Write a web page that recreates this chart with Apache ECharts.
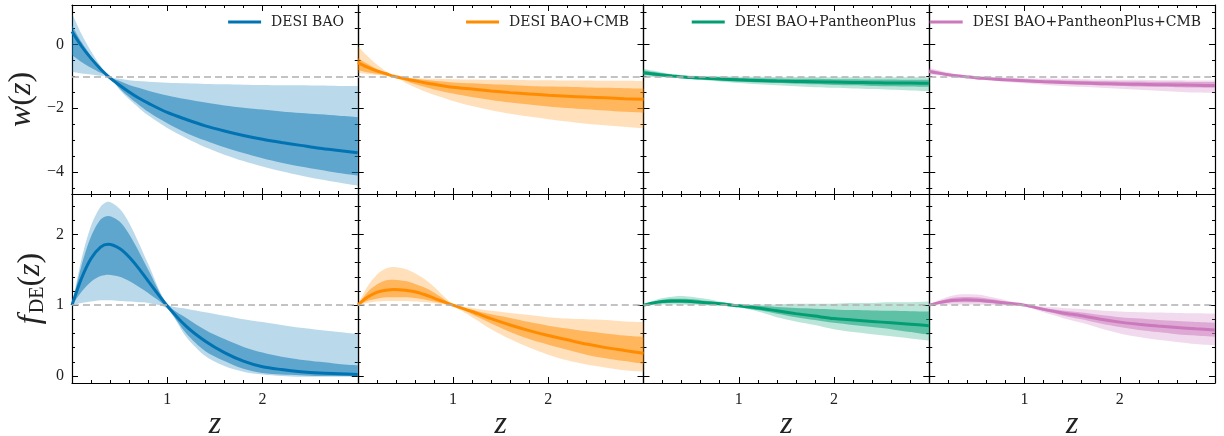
<!DOCTYPE html>
<html><head><meta charset="utf-8">
<script src="https://cdn.jsdelivr.net/npm/echarts@6/dist/echarts.min.js"></script>
<style>html,body{margin:0;padding:0;background:#fff}#c{width:1224px;height:436px}</style>
</head><body><div id="c"></div>
<script>
// ---------- data ----------
const Z = [0, 0.1, 0.2, 0.3, 0.38, 0.5, 0.6, 0.7, 0.8, 1.0, 1.2, 1.4, 1.6, 1.8, 2.0, 2.2, 2.4, 2.6, 2.8, 3.0];

// DESI BAO  w(z)
const w1_c     = [0.40, -0.06, -0.44, -0.77, -1.00, -1.28, -1.49, -1.68, -1.84, -2.13, -2.35, -2.55, -2.71, -2.85, -2.97, -3.07, -3.16, -3.25, -3.32, -3.39];
const w1_inHi  = [0.60, 0.07, -0.37, -0.74, -1.00, -1.15, -1.27, -1.36, -1.45, -1.60, -1.72, -1.82, -1.91, -1.98, -2.04, -2.10, -2.15, -2.19, -2.23, -2.27];
const w1_inLo  = [-0.33, -0.55, -0.73, -0.89, -1.00, -1.38, -1.65, -1.89, -2.11, -2.47, -2.77, -3.01, -3.22, -3.40, -3.56, -3.70, -3.82, -3.92, -4.02, -4.10];
const w1_outHi = [0.97, 0.32, -0.22, -0.68, -1.00, -1.08, -1.12, -1.15, -1.17, -1.20, -1.22, -1.24, -1.25, -1.26, -1.27, -1.28, -1.28, -1.29, -1.30, -1.30];
const w1_outLo = [-0.86, -0.91, -0.94, -0.98, -1.00, -1.42, -1.72, -1.98, -2.22, -2.62, -2.94, -3.22, -3.45, -3.65, -3.82, -3.97, -4.10, -4.22, -4.32, -4.42];
// DESI BAO  f_DE(z)
const f1_c     = [1.00, 1.38, 1.66, 1.82, 1.86, 1.80, 1.68, 1.52, 1.34, 0.99, 0.70, 0.49, 0.33, 0.21, 0.13, 0.09, 0.06, 0.04, 0.03, 0.02];
const f1_inHi  = [1.00, 1.56, 1.97, 2.21, 2.26, 2.18, 2.00, 1.76, 1.50, 1.01, 0.82, 0.65, 0.52, 0.41, 0.33, 0.27, 0.23, 0.20, 0.17, 0.15];
const f1_inLo  = [1.00, 1.19, 1.33, 1.41, 1.43, 1.40, 1.34, 1.26, 1.17, 0.96, 0.60, 0.35, 0.21, 0.10, 0.04, 0.02, 0.01, 0.00, 0.00, 0.00];
const f1_outHi = [1.00, 1.65, 2.12, 2.39, 2.46, 2.36, 2.16, 1.88, 1.58, 1.02, 0.95, 0.90, 0.85, 0.80, 0.76, 0.72, 0.68, 0.65, 0.62, 0.59];
const f1_outLo = [1.00, 1.03, 1.05, 1.07, 1.07, 1.06, 1.05, 1.04, 1.03, 0.95, 0.55, 0.28, 0.14, 0.06, 0.02, 0.00, -0.01, -0.01, -0.01, -0.01];

// DESI BAO+CMB  w(z)
const w2_c     = [-0.57, -0.71, -0.83, -0.92, -1.00, -1.08, -1.14, -1.20, -1.25, -1.34, -1.40, -1.46, -1.51, -1.55, -1.59, -1.62, -1.65, -1.67, -1.70, -1.72];
const w2_inHi  = [-0.42, -0.61, -0.77, -0.91, -1.00, -1.05, -1.08, -1.11, -1.14, -1.19, -1.22, -1.25, -1.27, -1.30, -1.32, -1.33, -1.35, -1.36, -1.37, -1.38];
const w2_inLo  = [-0.80, -0.87, -0.92, -0.97, -1.00, -1.14, -1.24, -1.33, -1.41, -1.54, -1.65, -1.74, -1.82, -1.88, -1.94, -1.99, -2.03, -2.07, -2.11, -2.14];
const w2_outHi = [-0.05, -0.36, -0.63, -0.85, -1.00, -1.04, -1.06, -1.07, -1.08, -1.09, -1.10, -1.11, -1.11, -1.12, -1.12, -1.13, -1.13, -1.14, -1.14, -1.15];
const w2_outLo = [-0.90, -0.93, -0.96, -0.98, -1.00, -1.20, -1.34, -1.47, -1.58, -1.77, -1.93, -2.06, -2.17, -2.26, -2.34, -2.41, -2.48, -2.53, -2.58, -2.63];
// DESI BAO+CMB  f_DE(z)
const f2_c     = [1.00, 1.11, 1.18, 1.21, 1.22, 1.21, 1.19, 1.15, 1.10, 1.00, 0.91, 0.81, 0.72, 0.64, 0.57, 0.51, 0.45, 0.40, 0.36, 0.32];
const f2_inHi  = [1.00, 1.18, 1.29, 1.35, 1.36, 1.34, 1.30, 1.25, 1.18, 1.01, 0.93, 0.87, 0.82, 0.76, 0.71, 0.67, 0.63, 0.60, 0.57, 0.55];
const f2_inLo  = [1.00, 1.06, 1.09, 1.11, 1.11, 1.11, 1.10, 1.08, 1.05, 0.99, 0.87, 0.74, 0.62, 0.52, 0.44, 0.37, 0.30, 0.25, 0.21, 0.17];
const f2_outHi = [1.00, 1.26, 1.43, 1.52, 1.54, 1.51, 1.45, 1.37, 1.26, 1.02, 0.96, 0.92, 0.89, 0.86, 0.83, 0.81, 0.80, 0.79, 0.77, 0.76];
const f2_outLo = [1.00, 1.03, 1.05, 1.06, 1.06, 1.06, 1.05, 1.04, 1.03, 0.98, 0.83, 0.66, 0.52, 0.40, 0.30, 0.22, 0.16, 0.12, 0.08, 0.06];

// DESI BAO+PantheonPlus  w(z)
const w3_c     = [-0.89, -0.93, -0.96, -0.99, -1.01, -1.04, -1.055, -1.07, -1.085, -1.11, -1.13, -1.15, -1.16, -1.17, -1.18, -1.19, -1.20, -1.21, -1.21, -1.22];
const w3_inHi  = [-0.81, -0.86, -0.91, -0.95, -0.98, -1.00, -1.01, -1.02, -1.03, -1.05, -1.06, -1.07, -1.08, -1.08, -1.09, -1.09, -1.10, -1.10, -1.11, -1.11];
const w3_inLo  = [-0.96, -0.98, -1.00, -1.02, -1.04, -1.07, -1.09, -1.11, -1.13, -1.17, -1.19, -1.21, -1.23, -1.25, -1.27, -1.28, -1.30, -1.31, -1.32, -1.33];
const w3_outHi = [-0.76, -0.82, -0.88, -0.93, -0.96, -0.98, -0.99, -1.00, -1.00, -1.01, -1.01, -1.02, -1.02, -1.02, -1.03, -1.03, -1.03, -1.03, -1.03, -1.03];
const w3_outLo = [-1.01, -1.02, -1.03, -1.04, -1.06, -1.09, -1.11, -1.14, -1.16, -1.21, -1.25, -1.28, -1.31, -1.34, -1.36, -1.38, -1.40, -1.42, -1.44, -1.46];
// DESI BAO+PantheonPlus  f_DE(z)
const f3_c     = [1.00, 1.03, 1.05, 1.06, 1.06, 1.05, 1.04, 1.03, 1.02, 0.99, 0.96, 0.92, 0.88, 0.845, 0.81, 0.79, 0.77, 0.75, 0.73, 0.71];
const f3_inHi  = [1.00, 1.045, 1.075, 1.09, 1.09, 1.085, 1.07, 1.055, 1.04, 1.005, 0.99, 0.975, 0.96, 0.95, 0.94, 0.93, 0.925, 0.92, 0.915, 0.91];
const f3_inLo  = [1.00, 1.015, 1.025, 1.03, 1.03, 1.025, 1.02, 1.01, 1.005, 0.975, 0.93, 0.88, 0.83, 0.79, 0.75, 0.72, 0.69, 0.66, 0.62, 0.58];
const f3_outHi = [1.00, 1.06, 1.10, 1.12, 1.13, 1.12, 1.10, 1.08, 1.05, 1.01, 1.01, 1.01, 1.02, 1.02, 1.02, 1.03, 1.03, 1.04, 1.04, 1.05];
const f3_outLo = [1.00, 1.005, 1.01, 1.01, 1.01, 1.005, 1.00, 0.995, 0.99, 0.965, 0.91, 0.83, 0.77, 0.72, 0.66, 0.62, 0.59, 0.56, 0.53, 0.50];

// DESI BAO+PantheonPlus+CMB  w(z)
const w4_c     = [-0.85, -0.90, -0.95, -0.985, -1.01, -1.05, -1.07, -1.09, -1.11, -1.14, -1.17, -1.19, -1.21, -1.23, -1.24, -1.25, -1.26, -1.27, -1.28, -1.29];
const w4_inHi  = [-0.79, -0.85, -0.91, -0.96, -0.99, -1.02, -1.04, -1.05, -1.07, -1.09, -1.11, -1.12, -1.14, -1.15, -1.16, -1.16, -1.17, -1.17, -1.18, -1.18];
const w4_inLo  = [-0.90, -0.94, -0.98, -1.01, -1.03, -1.07, -1.10, -1.12, -1.14, -1.18, -1.21, -1.24, -1.26, -1.28, -1.30, -1.32, -1.33, -1.34, -1.35, -1.36];
const w4_outHi = [-0.74, -0.81, -0.88, -0.94, -0.97, -1.00, -1.02, -1.03, -1.04, -1.06, -1.07, -1.08, -1.09, -1.10, -1.11, -1.11, -1.12, -1.12, -1.13, -1.13];
const w4_outLo = [-0.95, -0.97, -1.00, -1.03, -1.05, -1.09, -1.12, -1.15, -1.17, -1.22, -1.26, -1.30, -1.33, -1.36, -1.39, -1.42, -1.45, -1.48, -1.51, -1.53];
// DESI BAO+PantheonPlus+CMB  f_DE(z)
const f4_c     = [1.00, 1.035, 1.06, 1.07, 1.075, 1.07, 1.06, 1.045, 1.03, 1.00, 0.94, 0.89, 0.85, 0.80, 0.76, 0.73, 0.705, 0.685, 0.665, 0.65];
const f4_inHi  = [1.00, 1.05, 1.09, 1.11, 1.115, 1.11, 1.095, 1.075, 1.05, 1.005, 0.96, 0.925, 0.895, 0.86, 0.83, 0.81, 0.79, 0.775, 0.76, 0.75];
const f4_inLo  = [1.00, 1.02, 1.035, 1.04, 1.04, 1.04, 1.03, 1.02, 1.01, 0.99, 0.92, 0.855, 0.80, 0.74, 0.69, 0.65, 0.62, 0.59, 0.57, 0.55];
const f4_outHi = [1.00, 1.07, 1.12, 1.15, 1.155, 1.15, 1.13, 1.10, 1.07, 1.01, 0.98, 0.96, 0.945, 0.925, 0.91, 0.90, 0.895, 0.89, 0.885, 0.88];
const f4_outLo = [1.00, 1.005, 1.01, 1.01, 1.01, 1.01, 1.005, 1.00, 0.995, 0.98, 0.90, 0.82, 0.75, 0.67, 0.60, 0.55, 0.51, 0.48, 0.45, 0.43];

const NAMES  = ['DESI BAO', 'DESI BAO+CMB', 'DESI BAO+PantheonPlus', 'DESI BAO+PantheonPlus+CMB'];
const COLORS = ['#0173b2', '#ff8c00', '#029e73', '#cc78bc'];
const W_SETS = [[w1_c, w1_inLo, w1_inHi, w1_outLo, w1_outHi], [w2_c, w2_inLo, w2_inHi, w2_outLo, w2_outHi],
                [w3_c, w3_inLo, w3_inHi, w3_outLo, w3_outHi], [w4_c, w4_inLo, w4_inHi, w4_outLo, w4_outHi]];
const F_SETS = [[f1_c, f1_inLo, f1_inHi, f1_outLo, f1_outHi], [f2_c, f2_inLo, f2_inHi, f2_outLo, f2_outHi],
                [f3_c, f3_inLo, f3_inHi, f3_outLo, f3_outHi], [f4_c, f4_inLo, f4_inHi, f4_outLo, f4_outHi]];

const W_REF = -1, F_REF = 1;
const X_RANGE = [0, 3], W_RANGE = [-4.68, 1.23], F_RANGE = [-0.10, 2.57];
const X_MAJOR = [1, 2];
const X_MINOR = [0.2, 0.4, 0.6, 0.8, 1.2, 1.4, 1.6, 1.8, 2.2, 2.4, 2.6, 2.8];
const W_MAJOR = [-4, -2, 0];
const W_MINOR = [-4.5, -3.5, -3, -2.5, -1.5, -1, -0.5, 0.5, 1];
const F_MAJOR = [0, 1, 2];
const F_MINOR = [0.2, 0.4, 0.6, 0.8, 1.2, 1.4, 1.6, 1.8, 2.2, 2.4];

// ---------- layout / styling ----------
const FONT = "'Liberation Serif', 'DejaVu Serif', serif";
const LFONT = "'DejaVu Serif', serif";
const GX0 = 72, GW = 285.75, ROW_TOP = [5, 194], GH = 189;
const fmt = v => String(v).replace('-', '\u2212');

const grids = [], xAxes = [], yAxes = [], series = [], legends = [];

function xAxis(g, pos, major, labels, name) {
  return {
    type: 'value', gridIndex: g, position: pos, min: X_RANGE[0], max: X_RANGE[1],
    axisLine: { show: major, onZero: false, lineStyle: { color: '#000', width: 1.2 } },
    axisTick: { show: true, inside: true, length: major ? 6 : 3, customValues: major ? X_MAJOR : X_MINOR,
                lineStyle: { color: '#000', width: 1 } },
    axisLabel: { show: labels, customValues: X_MAJOR, fontFamily: FONT, fontSize: 16, color: '#222', margin: 9 },
    splitLine: { show: false }, minorTick: { show: false },
    name: name || '', nameLocation: 'middle', nameGap: 22,
    nameTextStyle: { fontFamily: FONT, fontStyle: 'italic', fontSize: 32, color: '#222' }
  };
}
function yAxis(g, pos, range, majorVals, minorVals, major, labels, name, gap) {
  return {
    type: 'value', gridIndex: g, position: pos, min: range[0], max: range[1],
    axisLine: { show: major, onZero: false, lineStyle: { color: '#000', width: 1.2 } },
    axisTick: { show: true, inside: true, length: major ? 6 : 3, customValues: major ? majorVals : minorVals,
                lineStyle: { color: '#000', width: 1 } },
    axisLabel: { show: labels, customValues: majorVals, formatter: fmt, fontFamily: FONT, fontSize: 16, color: '#222', margin: 8 },
    splitLine: { show: false }, minorTick: { show: false },
    name: name || '', nameLocation: 'middle', nameGap: gap || 35,
    nameTextStyle: { color: '#222', rich: RICH }
  };
}

const RICH = {
  i: { fontFamily: FONT, fontStyle: 'italic', fontSize: 32, color: '#222' },
  r: { fontFamily: FONT, fontSize: 32, color: '#222' },
  s: { fontFamily: FONT, fontSize: 20, color: '#222', padding: [14, 0, 0, 2] }
};

for (let row = 0; row < 2; row++) {
  for (let col = 0; col < 4; col++) {
    const g = row * 4 + col;
    grids.push({ left: GX0 + col * GW, top: ROW_TOP[row], width: GW, height: GH,
                 containLabel: false, outerBoundsMode: 'none' });
    const bottomRow = row === 1;
    xAxes.push(xAxis(g, 'bottom', true, bottomRow, bottomRow ? 'z' : ''));
    xAxes.push(xAxis(g, 'top', true, false));
    xAxes.push(xAxis(g, 'bottom', false, false));
    xAxes.push(xAxis(g, 'top', false, false));
    const range = bottomRow ? F_RANGE : W_RANGE;
    const maj = bottomRow ? F_MAJOR : W_MAJOR, mnr = bottomRow ? F_MINOR : W_MINOR;
    let nm = '';
    if (col === 0) nm = bottomRow ? '{i|f}{s|DE}{r|(}{i|z}{r|)}' : '{i|w}{r|(}{i|z}{r|)}';
    yAxes.push(yAxis(g, 'left', range, maj, mnr, true, col === 0, nm, bottomRow ? 24 : 34));
    yAxes.push(yAxis(g, 'right', range, maj, mnr, true, false));
    yAxes.push(yAxis(g, 'left', range, maj, mnr, false, false));
    yAxes.push(yAxis(g, 'right', range, maj, mnr, false, false));

    const set = bottomRow ? F_SETS[col] : W_SETS[col];
    const [c, inLo, inHi, outLo, outHi] = set;
    const color = COLORS[col];
    const base = { type: 'line', xAxisIndex: g * 4, yAxisIndex: g * 4, symbol: 'none', smooth: 0.3,
                   silent: true, animation: false };
    // band = stacked pair; value column first so that the stack runs on the y value
    const band = (lo, hi, key, op, zz) => {
      const common = Object.assign({}, base, { name: 'band', stack: key, stackStrategy: 'all', z: zz,
        encode: { x: 1, y: 0 }, lineStyle: { opacity: 0, width: 0 } });
      series.push(Object.assign({}, common, { data: Z.map((x, i) => [lo[i], x]) }));
      series.push(Object.assign({}, common, { data: Z.map((x, i) => [hi[i] - lo[i], x]),
        areaStyle: { color: color, opacity: op } }));
    };
    band(outLo, outHi, 'o' + g, 0.27, 1);
    band(inLo, inHi, 'i' + g, 0.5, 2);
    series.push(Object.assign({}, base, {
      name: NAMES[col], z: 4, data: Z.map((x, i) => [x, c[i]]), color: color,
      lineStyle: { color: color, width: 3 }, itemStyle: { color: color },
      markLine: { silent: true, symbol: 'none', label: { show: false }, animation: false,
        lineStyle: { color: '#b0b0b0', type: [7, 4], width: 1.5 },
        data: [{ yAxis: bottomRow ? F_REF : W_REF }] }
    }));
  }
}

const LEG_RIGHT_END = [344, 629, 916, 1201];
for (let col = 0; col < 4; col++) {
  legends.push({
    data: [{ name: NAMES[col], icon: 'rect' }], right: 1224 - LEG_RIGHT_END[col], top: 15,
    padding: 0, itemWidth: 33, itemHeight: 3, selectedMode: false,
    textStyle: { fontFamily: LFONT, fontSize: 14, color: '#222', padding: [0, 0, 0, 5] }
  });
}

const chart = echarts.init(document.getElementById('c'), null, { renderer: 'canvas' });
chart.setOption({
  animation: false, backgroundColor: '#fff',
  grid: grids, xAxis: xAxes, yAxis: yAxes, series: series, legend: legends
});
</script></body></html>
